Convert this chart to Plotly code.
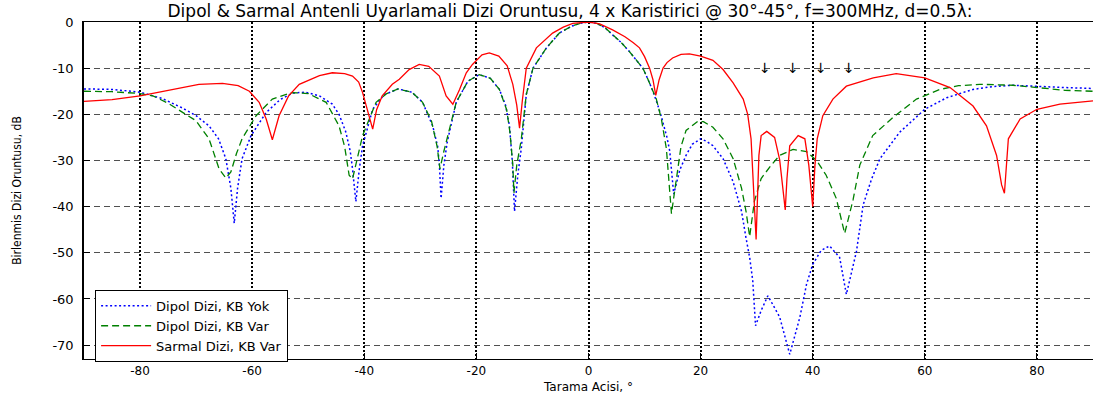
import plotly.graph_objects as go

# ---------------- data ----------------
ang_dipol_yok = [-90, -85, -80, -76, -72.5, -70, -67.7, -66, -64.7, -63.8, -63.2, -62.6, -61.8, -60.2,
                 -57.5, -55, -52.8, -50.5, -48, -45.7, -44.5, -43.3, -42.5, -42.1, -41.5, -40.9, -40.3,
                 -38.5, -36.5, -34, -31.5, -29.6, -27.8, -26.9, -26.6, -26.3, -25.8, -25.2, -23.6, -21.5,
                 -19.5, -17.5, -15.9, -14.8, -14.1, -13.6, -13.2, -12.6, -12, -11.1, -9.9, -7.5, -5.2,
                 -3, -1.5, 0, 1.5, 3, 4.3, 5.8, 7.3, 8.5, 9.7, 10.6, 11.5, 12.3, 13, 14, 14.5, 15.2,
                 15.8, 16.3, 17.4, 18.5, 20, 21, 22.2, 24, 25.8, 27.3, 28.1, 28.75, 29.3, 29.8, 30.8,
                 32, 34.1, 35.9, 37.7, 38.9, 40, 41.5, 43, 44.8, 46, 47.2, 47.8, 49, 50.5, 52, 55.5,
                 60, 63.9, 68.6, 72, 75.7, 80, 85, 90]
db_dipol_yok = [-14.5, -14.6, -15.2, -16.6, -18.6, -20.3, -22.5, -25.3, -29.6, -36, -43.6, -36, -29.6,
                -24.6, -19.6, -16.8, -15.4, -15.2, -16, -17.8, -20, -23.8, -28, -31.8, -38.9, -32,
                -26.8, -18.9, -15.8, -14.5, -15.2, -17.4, -22.5, -27, -31, -38.2, -31, -26, -17.4,
                -12.8, -11.4, -12.2, -14.6, -18, -22.5, -30, -41, -33, -27.5, -15.7, -10, -5.6, -2.4,
                -0.9, -0.3, 0, -0.3, -1.3, -2.8, -4.4, -6.4, -8.1, -10, -12.4, -15, -17.8, -20.5,
                -25, -28, -37.3, -34, -32, -28.9, -26.5, -25.3, -25.8, -26.8, -29.6, -34.6, -41,
                -46.8, -51, -56, -65.8, -62.5, -59.3, -63.9, -72, -64, -56.8, -52.5, -49.5, -48.5,
                -51, -59, -52.5, -49.7, -39.6, -34, -29.6, -23.9, -18.9, -16.4, -14.6, -14, -13.7,
                -14, -14.2, -14.4]

ang_dipol_var = [-90, -85, -80, -77.7, -75, -72.3, -70, -67.7, -65.9, -64.7, -63.8, -62.8, -61.8, -59.3,
                 -56.4, -53, -50, -46.8, -44.5, -43.5, -42.7, -42.1, -41.3, -40.3, -37.9, -36, -34,
                 -31.5, -29.6, -28, -27, -26.5, -25.8, -25.2, -23.6, -21.5, -19.5, -17.5, -15.9, -14.6,
                 -14, -13.5, -13.3, -12.8, -12, -11.1, -9.9, -7.5, -5.2, -3, -1.5, 0, 1.5, 3, 4.3, 5.8,
                 7.3, 8.5, 9.7, 10.6, 11.5, 12.1, 13, 13.9, 14.8, 15.7, 16.5, 17.4, 19.5, 20.5, 22.2,
                 24, 25.8, 27.3, 28.1, 28.75, 29.6, 30.8, 32.6, 34.1, 36.5, 38.9, 40.7, 42.4, 44.2,
                 45.7, 47.2, 48.4, 50.7, 54.3, 58.5, 62.7, 66, 69.8, 75.7, 80, 85, 90]
db_dipol_var = [-15, -15.1, -15.5, -16, -17.6, -19.6, -21.4, -25.3, -31.8, -33.8, -32.5, -28.5, -25.3,
                -20.3, -16.7, -15.3, -15.5, -17.4, -22.5, -27, -33.2, -34, -30, -24.6, -17.4, -15.5,
                -14.5, -15.2, -17.4, -21.5, -27, -31.8, -28, -25, -17.4, -12.8, -11.4, -12.2, -14.6,
                -19, -24, -31, -37, -31, -25.5, -15.7, -10, -5.6, -2.4, -0.9, -0.3, 0, -0.3, -1.3,
                -2.8, -4.4, -6.4, -8.1, -10, -12.4, -15, -16.7, -21, -27.5, -41.5, -33.9, -27, -23.5,
                -21.5, -21.6, -22.8, -25.3, -29.6, -36, -41, -46.5, -38.8, -33.9, -31, -28.9, -27.6,
                -28.1, -30, -33.2, -38.2, -45.8, -38.5, -31, -24.6, -20.7, -16.7, -14.6, -13.8, -13.5,
                -13.7, -14.2, -14.8, -15]

ang_sarmal_var = [-90, -85, -80, -75, -69.5, -65.3, -62.5, -60.5, -58.75, -57.5, -56.4, -55.2, -53.5,
                  -51.6, -48, -45.7, -43.5, -42.1, -41, -40.3, -39.1, -38.5, -37.8, -36.8, -35, -33.75,
                  -32, -30.2, -28.5, -26.6, -25.4, -24.2, -23, -21.8, -20.7, -19, -17.7, -16, -14.5,
                  -13.5, -12.8, -12.3, -11.8, -11.1, -9.3, -6.4, -4.5, -2.8, 0, 2, 4.3, 6.5, 8, 9.1,
                  10, 10.9, 11.5, 12, 12.6, 13.3, 14, 15, 16.5, 18, 20, 22.2, 24, 25.8, 27.6, 28.4,
                  29, 29.5, 29.9, 30.4, 30.8, 31.8, 33.2, 34.1, 34.7, 35.1, 35.4, 35.9, 37.4, 38.6,
                  39.3, 40, 40.4, 40.8, 41.8, 43.6, 46, 50.8, 54.9, 60, 64.5, 68.6, 71, 72.8, 73.7,
                  74.2, 74.9, 77, 80, 84.1, 90]
db_sarmal_var = [-17.2, -16.8, -16, -14.8, -13.5, -13.3, -13.8, -15, -17.4, -21, -25.5, -20.3, -16,
                 -13.5, -11.6, -11, -11.2, -11.7, -13, -15.3, -20.3, -23.2, -19, -16, -13.5, -12.4,
                 -10.3, -9.2, -9.6, -11.7, -16, -17.8, -14.6, -11, -9.2, -7.1, -6.7, -7.4, -9.5,
                 -13.5, -18, -23, -17, -10, -5.6, -2.4, -1.1, -0.3, 0, -0.4, -1.7, -3.2, -4.5, -5.6,
                 -7.5, -10, -12.5, -15.9, -12.5, -10, -8.8, -7.8, -7, -6.9, -7.4, -8.3, -10.3, -13.2,
                 -16.7, -20, -25.3, -36, -47.1, -28.9, -24.6, -23.7, -25, -29.8, -36, -40.7, -34,
                 -26.8, -24.6, -25.3, -31, -40, -31, -25.3, -20.3, -16.7, -13.9, -12.1, -11.2, -12.1,
                 -14.2, -18.2, -22.5, -28.9, -35.3, -37.1, -25.3, -21, -18.9, -17.8, -17.1]

series_names = ["Dipol Dizi, KB Yok", "Dipol Dizi, KB Var", "Sarmal Dizi, KB Var"]

jammer_angles = [30, 35, 40, 45]
jammer_level = -10

x_tickvals = [-80, -60, -40, -20, 0, 20, 40, 60, 80]
x_ticklabels = ["-80", "-60", "-40", "-20", "0", "20", "40", "60", "80"]
y_tickvals = [-70, -60, -50, -40, -30, -20, -10, 0]
y_ticklabels = ["-70", "-60", "-50", "-40", "-30", "-20", "-10", "0"]

title_text = ("Dipol & Sarmal Antenli Uyarlamali Dizi Oruntusu, 4 x Karistirici "
              "@ 30°-45°, f=300MHz, d=0.5λ:")
x_title = "Tarama Acisi, °"
y_title = "Birlenmis Dizi Oruntusu, dB"

# ---------------- figure ----------------
FONT = "DejaVu Sans, Verdana, Arial, sans-serif"
NARROW = "Liberation Sans Narrow, DejaVu Sans Condensed, Arial Narrow, sans-serif"

fig = go.Figure()
fig.add_trace(go.Scatter(x=ang_dipol_yok, y=db_dipol_yok, mode="lines", name=series_names[0],
                         line=dict(color="#0000FF", width=1.5, dash="2px,2.5px")))
fig.add_trace(go.Scatter(x=ang_dipol_var, y=db_dipol_var, mode="lines", name=series_names[1],
                         line=dict(color="#008000", width=1.3, dash="7px,4px")))
fig.add_trace(go.Scatter(x=ang_sarmal_var, y=db_sarmal_var, mode="lines", name=series_names[2],
                         line=dict(color="#FF0000", width=1.3)))

for a in jammer_angles:
    fig.add_annotation(x=a, y=jammer_level, text="↓", showarrow=False, xanchor="left",
                       yanchor="middle", font=dict(family=FONT, size=14, color="black"))

fig.update_layout(
    width=1093, height=394,
    margin=dict(l=84, r=0, t=22, b=35),
    paper_bgcolor="white", plot_bgcolor="white",
    font=dict(family=FONT, size=13, color="black"),
    title=dict(text=title_text, x=570 / 1093, xanchor="center", xref="container",
               y=0.973, yanchor="middle", yref="container",
               font=dict(family=FONT, size=17, color="black")),
    showlegend=True,
    legend=dict(x=0.011, y=0.205, xanchor="left", yanchor="top",
                bgcolor="white", bordercolor="black", borderwidth=1,
                font=dict(family=FONT, size=13, color="black"),
                tracegroupgap=0, itemwidth=50),
)

fig.update_xaxes(range=[-90, 90], tickvals=x_tickvals, ticktext=x_ticklabels,
                 showgrid=True, gridcolor="black", gridwidth=1.8, griddash="2px,2px",
                 zeroline=False, showline=True, linecolor="black", linewidth=1.2, mirror=True,
                 ticks="inside", ticklen=6, tickcolor="black", ticklabelstandoff=0,
                 title=dict(text=x_title, standoff=6, font=dict(family=FONT, size=12)),
                 tickfont=dict(family=FONT, size=12))
fig.update_yaxes(range=[-73, 0], tickvals=y_tickvals, ticktext=y_ticklabels,
                 showgrid=True, gridcolor="#505050", gridwidth=1, griddash="6px,4px",
                 zeroline=False, showline=True, linecolor="black", linewidth=1.5, mirror=False,
                 ticks="inside", ticklen=6, tickcolor="black", ticklabelstandoff=6,
                 title=dict(text=y_title, standoff=28, font=dict(family=NARROW, size=12)),
                 tickfont=dict(family=FONT, size=13))

fig.write_html("out.html")
